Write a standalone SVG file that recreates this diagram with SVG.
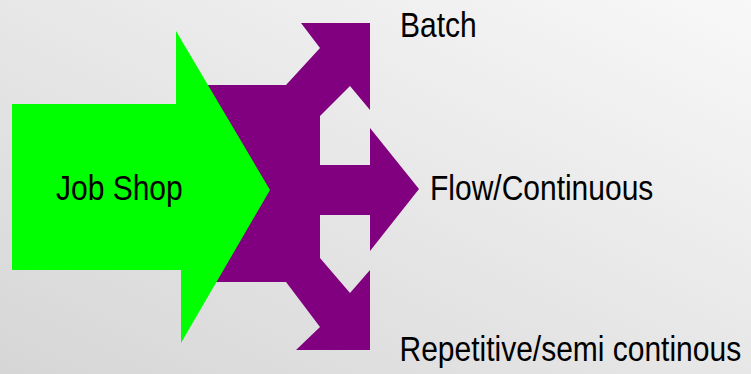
<svg xmlns="http://www.w3.org/2000/svg" width="751" height="374" viewBox="0 0 751 374">
<style>
.lbl{font-family:"Liberation Sans",Arial,sans-serif;font-size:30px;fill:#000}
</style>
<defs>
<linearGradient id="bg" x1="1" y1="0" x2="0" y2="1">
<stop offset="0" stop-color="#f8f8f8"/>
<stop offset="1" stop-color="#d6d6d6"/>
</linearGradient>
</defs>
<rect width="751" height="374" fill="url(#bg)"/>
<g id="purple-arrows">
<polygon fill="#800080" points="200,85 286,85 320,48 301,23 370,23 370,110 350,86 320,116 320,165 370,165 370,128 419,189 370,251 370,215 320,215 320,258 350,293 370,270 370,350 296,350 320,327 286,282 200,282"/>
</g>
<g id="job-shop">
<polygon fill="#00ff00" points="12,104 176,104 176,31 270,190 181,343 181,270 12,270"/>
<text class="lbl" transform="translate(56,200) scale(1,1.16)">Job Shop</text>
</g>
<g id="batch">
<text class="lbl" transform="translate(400,36.5) scale(1,1.16)">Batch</text>
</g>
<g id="flow">
<text class="lbl" transform="translate(430,200) scale(1,1.16)">Flow/Continuous</text>
</g>
<g id="repetitive">
<text class="lbl" transform="translate(399.5,361) scale(1,1.16)">Repetitive/semi continous</text>
</g>
<g id="connectors"/>
</svg>
